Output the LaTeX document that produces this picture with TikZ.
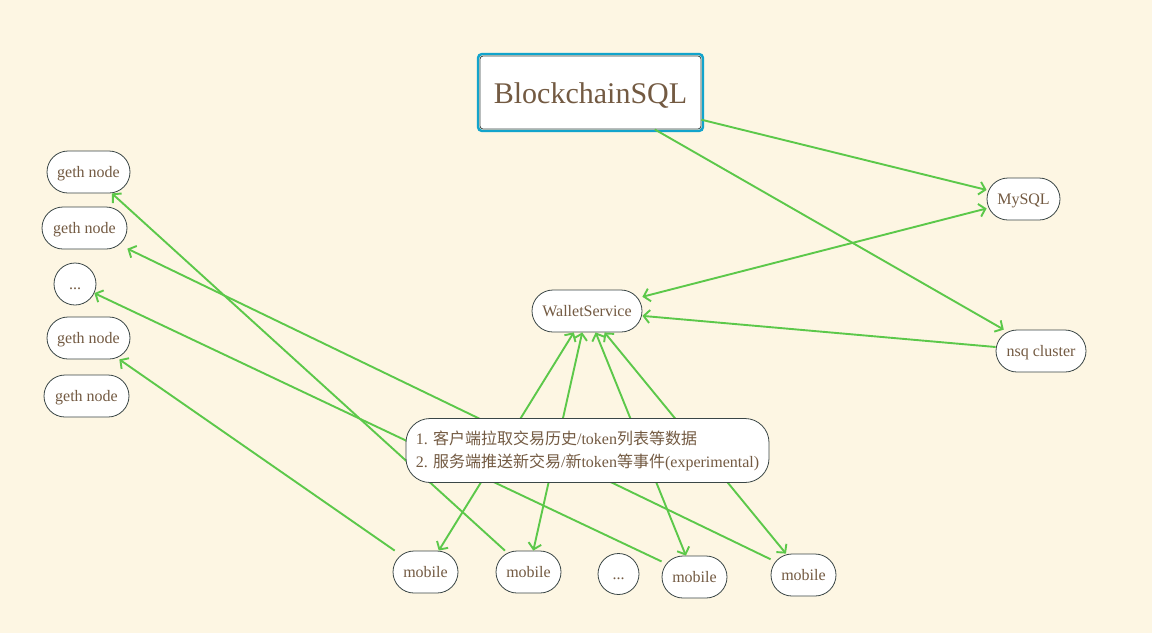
\documentclass[tikz,border=0pt]{standalone}
\usepackage{fontspec}
\setmainfont{Liberation Serif}
\newfontfamily\cjk{Noto Sans CJK SC}
\usetikzlibrary{arrows.meta}
\definecolor{bg}{HTML}{FDF6E3}
\definecolor{edgec}{HTML}{5CC84A}
\definecolor{txt}{HTML}{735A42}
\definecolor{bord}{HTML}{3A4646}
\definecolor{sel}{HTML}{12A4CC}
\begin{document}
\begin{tikzpicture}[x=1pt,y=-1pt,
  box/.style={draw=bord, line width=0.8pt, fill=white, text=txt, font=\fontsize{16}{19}\selectfont, rounded corners=21pt, minimum height=42pt, inner sep=0pt, text height=14pt, text depth=2.5pt},
  dotsbox/.style={draw=bord, line width=0.8pt, fill=white, text=txt, font=\fontsize{16}{19}\selectfont, circle, minimum size=42pt, inner sep=0pt, text height=14pt, text depth=2.5pt},
  link/.style={draw=edgec, line width=1.9pt, -{Straight Barb[length=6pt,width=13pt]}},
  blink/.style={draw=edgec, line width=1.9pt, {Straight Barb[length=6pt,width=13pt]}-{Straight Barb[length=6pt,width=13pt]}}]
\fill[bg] (0,0) rectangle (1152,633);
\useasboundingbox (0,0) rectangle (1152,633);

% main node
\node[draw=bord, line width=0.8pt, fill=white, text=txt, rounded corners=3pt,
      minimum width=221pt, minimum height=73pt, inner sep=0pt,
      text height=23.5pt, text depth=2pt,
      font=\fontsize{30}{34}\selectfont] (bsql) at (590.5,92.5) {BlockchainSQL};
\draw[sel, line width=2.4pt, rounded corners=4pt]
  ([xshift=-1.6pt,yshift=1.6pt]bsql.north west) rectangle ([xshift=1.6pt,yshift=-1.6pt]bsql.south east);

% services
\node[box, minimum width=110pt] (ws) at (587,311) {WalletService};
\node[box, minimum width=73pt] (mysql) at (1023.5,199) {MySQL};
\node[box, minimum width=90pt] (nsq) at (1041,351) {nsq cluster};

% geth nodes
\node[box, minimum width=83pt] (g1) at (88.5,172) {geth node};
\node[box, minimum width=85pt] (g2) at (84.5,228) {geth node};
\node[dotsbox] (gd) at (75,284) {...};
\node[box, minimum width=83pt] (g4) at (88.5,338) {geth node};
\node[box, minimum width=85pt] (g5) at (86.5,396) {geth node};

% mobiles
\node[box, minimum width=65pt] (m1) at (425.5,572) {mobile};
\node[box, minimum width=65pt] (m2) at (528.5,572) {mobile};
\node[dotsbox, minimum size=41pt] (md) at (618.5,574) {...};
\node[box, minimum width=65pt] (m4) at (694.5,577) {mobile};
\node[box, minimum width=65pt] (m5) at (803.5,575) {mobile};

% connectors
\draw[link] (bsql) -- (mysql);
\draw[link] (bsql) -- (nsq);
\draw[blink] (ws) -- (mysql);
\draw[link] (nsq) -- (ws);
\draw[blink] (ws) -- (m1);
\draw[blink] (ws) -- (m2);
\draw[blink] (ws) -- (m4);
\draw[blink] (ws) -- (m5);
\draw[link] (m1) -- (g4);
\draw[link] (m2) -- (g1);
\draw[link] (m4) -- (gd);
\draw[link] (m5) -- (g2);

% label box on top
\node[draw=bord, line width=0.8pt, fill=white, text=txt, rounded corners=24pt,
      minimum width=363pt, minimum height=64pt, inner sep=0pt, align=left,
      font=\fontsize{16}{23}\selectfont] (note) at (587.5,450.5)
  {1. {\cjk 客户端拉取交易历史}/token{\cjk 列表等数据}\\
   2. {\cjk 服务端推送新交易}/{\cjk 新}token{\cjk 等事件}(experimental)};
\end{tikzpicture}
\end{document}
